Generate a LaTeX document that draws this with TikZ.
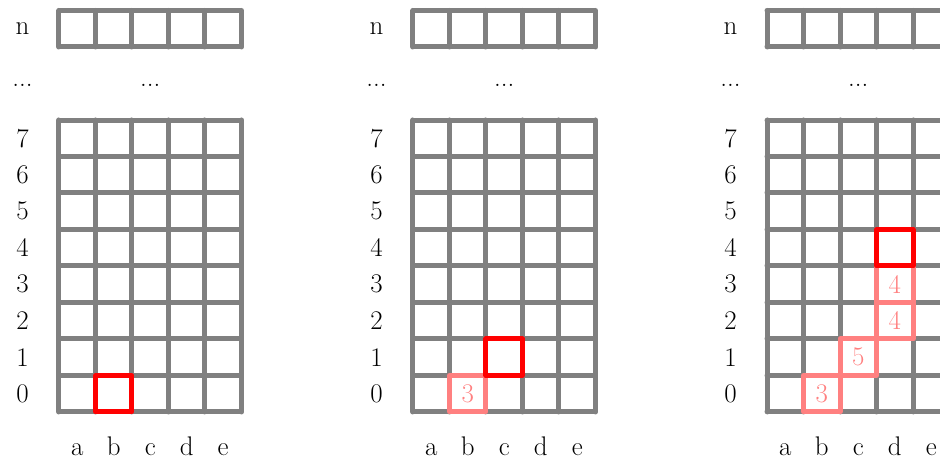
\documentclass[tikz,border=0pt]{standalone}
\begin{document}
\begin{tikzpicture}[
  gridline/.style={draw=gray, line width=3.9pt, line join=round, line cap=round},
  redcell/.style={draw=red, line width=3.9pt, line join=round},
  pinkcell/.style={draw=red!50, line width=3.9pt, line join=round, text=red!50},
  lbl/.style={font=\fontsize{21}{25}\selectfont, inner sep=0pt},
]
\useasboundingbox (-1.616,-1.288) rectangle (24.14,11.288);
\foreach \g/\ox in {1/0, 2/9.7, 3/19.4} {
  \begin{scope}[xshift=\ox cm]
    \draw[gridline] (0,0) grid (5,8);
    \draw[gridline] (0,10) grid (5,11);
    \foreach \r in {0,...,7} {
      \node[lbl] (r\g-\r) at (-1,\r+0.5) {\r};
    }
    \node[lbl] (rn\g) at (-1,10.5) {n};
    \node[lbl, anchor=base] (dl\g) at (-1,8.93) {...};
    \node[lbl, anchor=base] (dm\g) at (2.5,8.93) {...};
    \foreach \c [count=\i from 0] in {a,b,c,d,e} {
      \node[lbl, anchor=base] (c\g-\c) at (\i+0.5,-1.2) {\c};
    }
  \end{scope}
}
% grid 1
\node[redcell, minimum size=1cm, inner sep=0pt] (r1) at (1.5,0.5) {};
% grid 2
\begin{scope}[xshift=9.7cm]
  \node[pinkcell, lbl, minimum size=1cm] (p2a) at (1.5,0.5) {3};
  \node[redcell, minimum size=1cm, inner sep=0pt] (r2) at (2.5,1.5) {};
\end{scope}
% grid 3
\begin{scope}[xshift=19.4cm]
  \node[pinkcell, lbl, minimum size=1cm] (p3a) at (1.5,0.5) {3};
  \node[pinkcell, lbl, minimum size=1cm] (p3b) at (2.5,1.5) {5};
  \node[pinkcell, lbl, minimum size=1cm] (p3c) at (3.5,2.5) {4};
  \node[pinkcell, lbl, minimum size=1cm] (p3d) at (3.5,3.5) {4};
  \node[redcell, minimum size=1cm, inner sep=0pt] (r3) at (3.5,4.5) {};
\end{scope}
\end{tikzpicture}
\end{document}
